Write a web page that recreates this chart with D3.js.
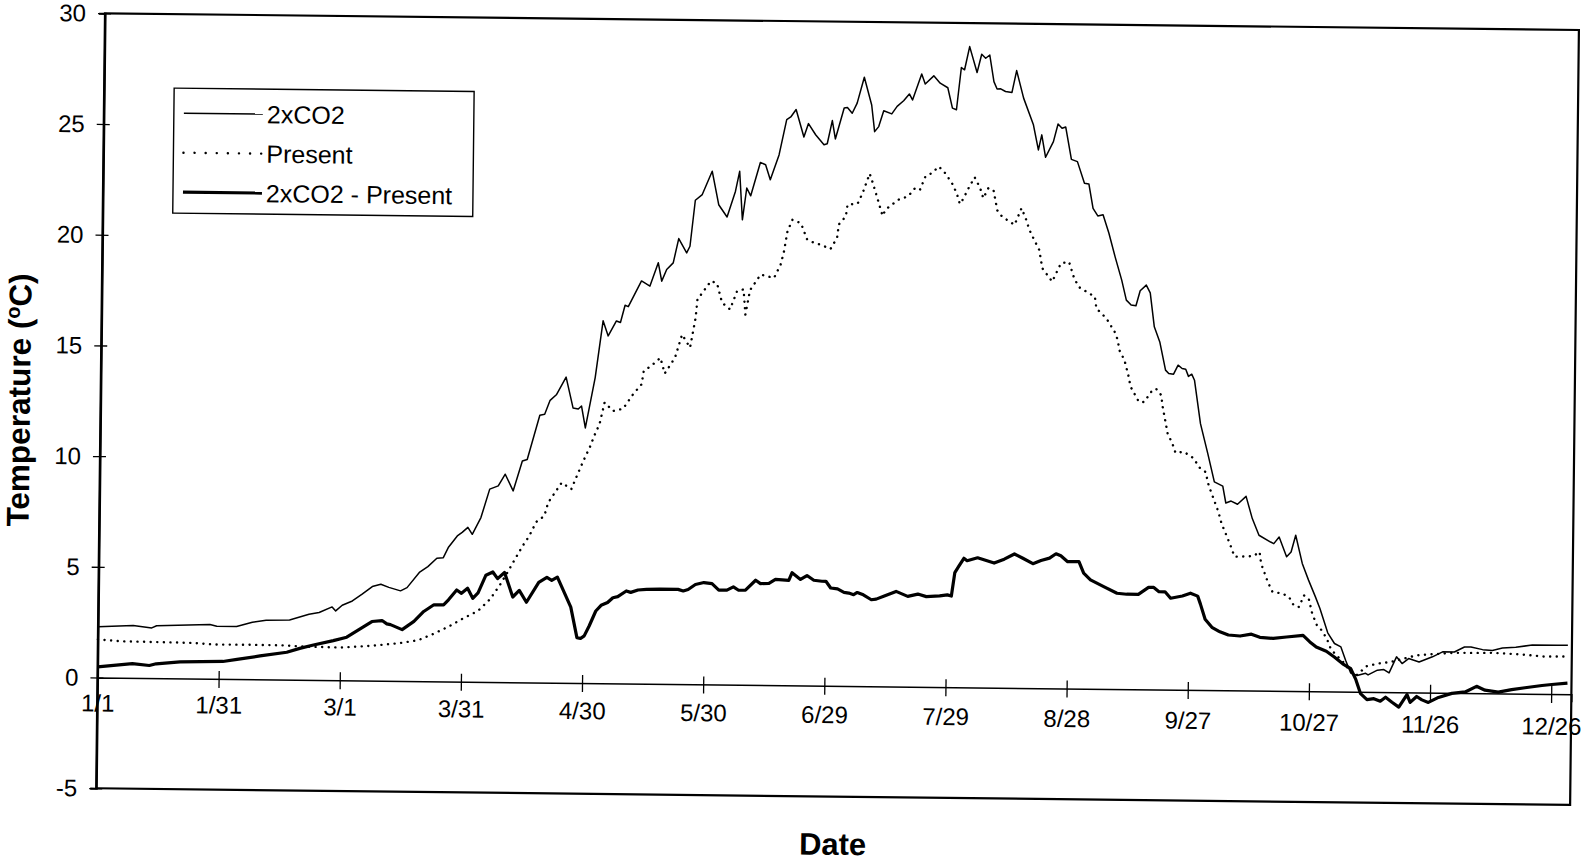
<!DOCTYPE html>
<html>
<head>
<meta charset="utf-8">
<script src="https://cdn.jsdelivr.net/npm/d3@7/dist/d3.min.js"></script>
<style>
  html, body { margin: 0; padding: 0; background: #fff; }
  svg { display: block; font-family: "Liberation Sans", Arial, sans-serif; }
</style>
</head>
<body>
<svg id="chart" width="1582" height="862"></svg>
<script>
// Day-of-year tick positions and their date labels
const dayTicks = [0, 30, 60, 90, 120, 150, 180, 210, 240, 270, 300, 330, 360];
const dayLabels = ["1/1", "1/31", "3/1", "3/31", "4/30", "5/30", "6/29", "7/29", "8/28", "9/27", "10/27", "11/26", "12/26"];
const tempTicks = [-5, 0, 5, 10, 15, 20, 25, 30];

// Daily mean temperature, doubled CO2 scenario: [day of year, °C]
const doubledCO2 = [
  [0,2.29],[8.7,2.37],[13.3,2.27],[14.5,2.37],[27.7,2.45],[29.4,2.38],[34.3,2.38],[38.2,2.58],[41.6,2.67],[47.4,2.7],
  [52.2,2.97],[54.7,3.05],[57.9,3.31],[58.8,3.13],[60.4,3.39],[62.9,3.59],[65.3,3.9],[67.8,4.25],[69.9,4.36],[71.9,4.22],
  [74.8,4.07],[76.4,4.22],[79.4,4.91],[81.5,5.18],[83.7,5.56],[85.3,5.59],[86.5,6.05],[88.7,6.58],[89.9,6.74],[91.3,6.97],
  [92.4,6.66],[94.5,7.42],[96.6,8.71],[98.7,8.86],[100.4,9.39],[102.4,8.64],[104.6,10.0],[105.8,10.07],[108.8,12.07],[110,12.12],
  [111.3,12.75],[112.9,13.02],[115.2,13.81],[117,12.42],[118.3,12.37],[119.1,12.51],[120.1,11.52],[122.4,13.8],[124.2,16.37],[125.5,15.69],
  [127.5,16.37],[128.5,16.3],[129.6,17.08],[130.4,17.02],[133.6,18.19],[135.7,17.96],[137.7,19.02],[138.6,18.19],[139.8,18.72],[141.4,19.02],
  [142.7,20.12],[144.7,19.48],[145.5,19.78],[146.7,21.86],[148.4,22.12],[150.8,23.18],[152.5,21.67],[154.6,21.12],[156.6,22.28],[157.6,23.19],
  [158.4,21.0],[159.4,22.44],[160.4,22.09],[162.7,23.6],[164,23.5],[165.2,22.82],[167.3,23.95],[169.1,25.55],[170.1,25.67],[171.4,26.01],
  [173.4,24.77],[174.5,25.38],[176.3,24.88],[178.4,24.43],[179.2,24.48],[180.4,25.53],[181.2,24.7],[183.3,26.1],[184.1,26.13],[185.3,25.87],
  [186.5,26.33],[188.2,27.5],[190.1,26.25],[190.9,25.05],[191.9,25.28],[193.1,26.0],[195.1,25.86],[196.4,26.2],[198,26.46],[199.4,26.77],
  [200.2,26.5],[202.4,27.68],[203.3,27.23],[205.4,27.6],[207,27.27],[208.9,27.07],[210.1,26.15],[211.1,26.08],[212.2,27.99],[213,27.89],
  [214.2,28.94],[216.1,27.77],[217.2,28.6],[218.2,28.42],[219.2,28.57],[220.3,27.37],[221.1,27.04],[222,27.05],[223.2,26.93],[224.8,26.89],
  [225.9,27.88],[227.7,26.64],[230.2,25.44],[231.5,24.31],[232.3,24.99],[233.3,23.98],[235.2,24.69],[236.3,25.49],[237.3,25.3],[238.2,25.36],
  [239.7,23.9],[241.2,23.8],[243,22.83],[244.1,22.8],[245.2,21.7],[246.4,21.36],[247.7,21.41],[249.2,20.58],[250.8,19.52],[252.5,18.47],
  [253.7,17.57],[254.9,17.35],[256.1,17.32],[257.1,18.0],[258.6,18.26],[259.6,17.91],[260.7,16.38],[262.1,15.7],[263.6,14.43],[264.4,14.28],
  [265.6,14.25],[266.7,14.66],[267.7,14.51],[268.6,14.48],[269.3,14.16],[270.1,14.26],[270.8,13.99],[272.4,12.03],[274.3,10.68],[276,9.41],
  [278.1,9.22],[278.9,8.46],[280.2,8.55],[281.8,8.41],[283.9,8.77],[285.5,7.77],[287.2,7.02],[290.1,6.72],[290.9,6.65],[292.2,6.95],
  [294.1,6.06],[295.2,6.28],[296.3,7.04],[298,5.77],[299.6,5.02],[301.3,4.29],[302.5,3.74],[304.5,2.65],[306.2,2.17],[307.8,2.02],
  [309,1.42],[310.3,0.85],[311.9,0.74],[314,0.84],[314.6,0.77],[316.9,0.99],[318.5,1.02],[319.8,0.87],[321.6,1.6],[323,1.3],
  [324.6,1.53],[327.2,1.38],[330.5,1.62],[333,1.85],[335.9,1.85],[338.4,2.08],[340,2.08],[342.9,1.97],[345.3,1.94],[347.8,2.05],
  [351.1,2.1],[355.2,2.2],[361.4,2.21],[364,2.21]
];

// Daily mean temperature, present climate: [day of year, °C]
const presentClimate = [
  [0,1.72],[5.6,1.65],[15.5,1.63],[23.8,1.61],[28.7,1.55],[37,1.56],[45.3,1.55],[51.9,1.5],[60.1,1.48],[67.5,1.57],
  [74.8,1.71],[79.3,1.85],[82.9,2.13],[87.1,2.51],[90.3,2.85],[94,3.2],[97,3.74],[99.5,4.42],[101.2,4.95],[102.8,5.48],
  [104.9,6.16],[106.5,6.61],[108.2,7.25],[110.2,7.53],[111.1,8.13],[114.4,9.04],[116.8,8.75],[118.5,9.51],[119.7,10.03],[121.4,10.71],
  [122.3,11.16],[123.6,11.7],[124.8,12.68],[126.9,12.3],[129.4,12.41],[131.8,13.06],[133.9,13.52],[134.4,14.12],[136.5,14.4],[138.5,14.73],
  [139.6,14.02],[142.1,14.74],[143.8,15.79],[145.8,15.2],[147.1,16.55],[147.5,17.38],[150.8,18.22],[152.3,18.12],[153.6,17.25],[155.6,16.95],
  [157.3,17.78],[158.9,17.86],[159.4,16.72],[160.5,17.83],[163.1,18.54],[166.4,18.39],[168,19.0],[168.8,19.6],[169.6,20.5],[170.8,21.03],
  [172.9,20.88],[174.5,20.14],[176.2,20.0],[177.8,19.92],[180.3,19.73],[181.9,20.23],[182.3,20.84],[184,21.21],[184.4,21.74],[186.9,21.79],
  [188.1,22.27],[189.8,23.15],[190.6,22.73],[191.9,21.97],[193.1,21.25],[193.9,21.55],[197,21.99],[199.4,22.15],[201.1,22.53],[202.3,22.45],
  [203.6,23.05],[205.2,23.21],[206.9,23.51],[208.5,23.21],[210.2,22.76],[211.4,22.31],[212.2,21.83],[213,22.05],[214.3,22.54],[215.8,23.04],
  [217.2,22.55],[218,22.1],[219.2,22.55],[220.5,22.47],[221.5,21.56],[222.7,21.28],[225.8,20.91],[227.5,21.67],[228.7,21.14],[229.5,20.69],
  [230.7,20.25],[232,19.79],[232.8,18.97],[235.3,18.37],[237.4,19.2],[239.4,19.27],[240.6,18.6],[241.8,18.15],[243.8,17.93],[245.9,17.71],
  [246.3,17.18],[248.8,16.74],[250.9,16.13],[251.7,15.76],[252.1,15.31],[253.4,14.86],[254.4,14.18],[255,13.66],[257.1,12.98],[258.4,12.98],
  [260.1,13.44],[261.3,13.59],[262.6,13.3],[263,12.77],[264.3,11.57],[265.5,11.12],[266.3,10.7],[268.4,10.75],[270.9,10.45],[272.1,10.07],
  [273.8,9.85],[274.6,9.25],[277.1,8.05],[277.9,7.53],[280,6.63],[281.2,6.04],[285.8,6.07],[287.4,6.27],[287.8,5.75],[289.5,4.92],
  [290.7,4.47],[293.2,4.4],[294.8,4.25],[296,3.87],[297.3,3.8],[298.5,4.33],[299.7,4.18],[300.6,3.51],[301.8,2.98],[303,2.76],
  [304.3,2.38],[305.1,2.01],[306.3,1.71],[308.4,1.34],[310,0.97],[311.7,0.74],[314.2,1.16],[317.1,1.29],[320,1.36],[323.3,1.52],
  [326.6,1.68],[330.7,1.74],[335.7,1.81],[341.5,1.82],[345.6,1.83],[348.9,1.8],[352.6,1.77],[358,1.69],[361.3,1.7],[364,1.7]
];

// Warming signal, doubled CO2 minus present: [day of year, °C]
const warming = [
  [0,0.48],[8.6,0.65],[12.8,0.57],[14.5,0.65],[20.4,0.75],[31,0.79],[34.5,0.89],[40.2,1.06],[46.8,1.24],[50,1.42],
  [53.4,1.58],[58.3,1.79],[61.6,1.95],[64.9,2.33],[67.8,2.67],[70.3,2.72],[71.5,2.57],[72.4,2.54],[75.3,2.32],[78.2,2.7],
  [80.6,3.15],[83.1,3.46],[85.5,3.46],[86.7,3.69],[88.7,4.14],[89.9,3.99],[91.4,4.22],[92.7,3.77],[94,4.02],[95.9,4.82],
  [97.6,4.97],[98.8,4.67],[100.5,4.95],[102.6,3.85],[104.2,4.15],[106,3.62],[109,4.52],[111,4.75],[112.2,4.62],[113.6,4.77],
  [117,3.42],[118.6,2.05],[119.5,2.01],[120.4,2.13],[121.6,2.58],[123.2,3.26],[124.5,3.52],[126.1,3.65],[127.4,3.87],[128.6,3.92],
  [130.7,4.18],[131.8,4.12],[133.6,4.23],[135.7,4.26],[139,4.28],[143.5,4.28],[144.8,4.21],[146,4.28],[147.8,4.51],[149.9,4.6],
  [151.9,4.56],[153.6,4.27],[155.6,4.27],[157.2,4.42],[158.5,4.27],[160.2,4.28],[162.7,4.73],[163.9,4.58],[166,4.6],[167.6,4.78],
  [169.3,4.76],[170.9,4.74],[171.7,5.09],[173.8,4.79],[175.4,4.97],[177.1,4.76],[179.1,4.72],[180.1,4.72],[181.3,4.42],[183,4.38],
  [184.6,4.23],[185.8,4.2],[187,4.13],[187.9,4.23],[189.4,4.13],[191.4,3.91],[192.6,3.94],[194.6,4.09],[197.5,4.3],[200.4,4.08],
  [202.9,4.19],[205,4.08],[208.3,4.12],[210.2,4.17],[211.2,4.12],[212,5.18],[212.9,5.45],[214.2,5.83],[215,5.72],[217.6,5.86],
  [221.7,5.63],[224.2,5.81],[226.7,6.05],[228.8,5.86],[231.3,5.62],[233.3,5.77],[235.4,5.88],[237,6.08],[238.2,5.99],[239.9,5.73],
  [242.7,5.74],[243.9,5.22],[245.6,4.92],[248.9,4.62],[252.2,4.33],[254.6,4.29],[257.5,4.29],[260,4.61],[261.3,4.61],[262.6,4.42],
  [264.1,4.42],[265.5,4.13],[268.4,4.24],[270.4,4.37],[272.2,4.24],[272.9,3.88],[274.1,3.2],[275.8,2.84],[277.8,2.64],[279.9,2.5],
  [282.8,2.46],[285.6,2.55],[287.7,2.41],[291,2.37],[294.3,2.44],[298.4,2.52],[300.1,2.23],[301.7,2.0],[304.2,1.82],[306.2,1.56],
  [308.3,1.26],[310.3,1.04],[311.6,0.55],[312.8,-0.08],[314.4,-0.35],[316.1,-0.3],[317.7,-0.41],[319,-0.23],[320.6,-0.45],[322.3,-0.67],
  [324.3,-0.1],[325.1,-0.45],[326.7,-0.18],[328,-0.33],[329.6,-0.44],[332.1,-0.21],[335.4,-0.02],[338.7,0.05],[341.5,0.31],[343.6,0.14],
  [346.9,0.06],[350.2,0.18],[353.5,0.27],[357.7,0.38],[360.1,0.43],[364,0.5]
];

const seriesNames = ["2xCO2", "Present", "2xCO2 - Present"];

// Plot frame (the whole figure sits slightly tilted, as printed)
const plot = { left: 105, top: 13.3, width: 1474, height: 775 };
const tilt = 0.65;

const styles = [
  { width: 1.5, dash: null, cap: "butt" },
  { width: 2.4, dash: "0.1 6.5", cap: "round" },
  { width: 3.2, dash: null, cap: "butt" }
];
const seriesData = [doubledCO2, presentClimate, warming];

const svg = d3.select("#chart");
svg.append("rect").attr("width", 1582).attr("height", 862).attr("fill", "#fff");

const root = svg.append("g")
  .attr("transform", `rotate(${tilt} ${plot.left} ${plot.top})`);

const g = root.append("g")
  .attr("transform", `translate(${plot.left},${plot.top})`);

const x = d3.scaleLinear().domain([0, 365]).range([0, plot.width]);
const y = d3.scaleLinear().domain([-5, 30]).range([plot.height, 0]);

// Plot area border (top, right, bottom) and value axis
g.append("rect")
  .attr("x", 0).attr("y", 0)
  .attr("width", plot.width).attr("height", plot.height)
  .attr("fill", "none").attr("stroke", "#000").attr("stroke-width", 2.2);

// Value axis with crossing tick marks
const yAxis = g.append("g")
  .call(d3.axisLeft(y).tickValues(tempTicks).tickSize(6).tickFormat(d => String(d)));
yAxis.select(".domain").attr("stroke", "#000").attr("stroke-width", 2.2);
yAxis.selectAll(".tick line").attr("x1", 6).attr("x2", -7).attr("stroke", "#000").attr("stroke-width", 1.3);
yAxis.selectAll(".tick text")
  .attr("x", -19).attr("dy", "0.33em")
  .attr("font-size", 24).attr("fill", "#000")
  .attr("font-family", "Liberation Sans, Arial, sans-serif");

// Category axis along the zero line, crossing ticks every 30 days
const xAxis = g.append("g")
  .attr("transform", `translate(0,${y(0)})`)
  .call(d3.axisBottom(x).tickValues(dayTicks).tickSize(8)
    .tickFormat((d, i) => dayLabels[i]));
xAxis.select(".domain").attr("stroke", "#000").attr("stroke-width", 1.5);
xAxis.selectAll(".tick line").attr("y1", -8).attr("y2", 9).attr("stroke", "#000").attr("stroke-width", 1.3);
xAxis.selectAll(".tick text")
  .attr("y", (d, i) => 34 + i * 0.55).attr("dy", 0)
  .attr("font-size", 24).attr("fill", "#000")
  .attr("font-family", "Liberation Sans, Arial, sans-serif");

// Series lines
const line = d3.line().x(d => x(d[0])).y(d => y(d[1]));
seriesData.forEach((data, i) => {
  g.append("path")
    .datum(data)
    .attr("d", line)
    .attr("fill", "none")
    .attr("stroke", "#000")
    .attr("stroke-width", styles[i].width)
    .attr("stroke-linejoin", "round")
    .attr("stroke-linecap", styles[i].cap)
    .attr("stroke-dasharray", styles[i].dash);
});

// Legend box
const legend = g.append("g").attr("transform", "translate(70,74)");
legend.append("rect")
  .attr("width", 300).attr("height", 125)
  .attr("fill", "#fff").attr("stroke", "#000").attr("stroke-width", 1.4);
seriesNames.forEach((name, i) => {
  const row = legend.append("g").attr("transform", `translate(0,${25 + i * 39.5})`);
  row.append("line")
    .attr("x1", 10).attr("x2", 89)
    .attr("stroke", "#000")
    .attr("stroke-width", styles[i].width)
    .attr("stroke-linecap", styles[i].cap)
    .attr("stroke-dasharray", i === 1 ? "0.1 11" : null);
  row.append("text")
    .attr("x", 93).attr("dy", "0.36em")
    .attr("font-size", 25).attr("fill", "#000")
    .text(name);
});

// Axis titles
g.append("text")
  .attr("x", plot.width / 2).attr("y", 822)
  .attr("text-anchor", "middle").attr("dy", "0.36em")
  .attr("font-size", 31).attr("font-weight", "bold").attr("fill", "#000")
  .text("Date");

const yTitle = g.append("text")
  .attr("transform", `translate(${-82},${plot.height / 2}) rotate(-90)`)
  .attr("text-anchor", "middle").attr("dy", "0.36em")
  .attr("font-size", 31.5).attr("font-weight", "bold").attr("fill", "#000");
yTitle.append("tspan").text("Temperature (");
yTitle.append("tspan").attr("font-size", 20).attr("dy", "-0.55em").text("o");
yTitle.append("tspan").attr("dy", "0.36em").text("C)");
</script>
</body>
</html>
